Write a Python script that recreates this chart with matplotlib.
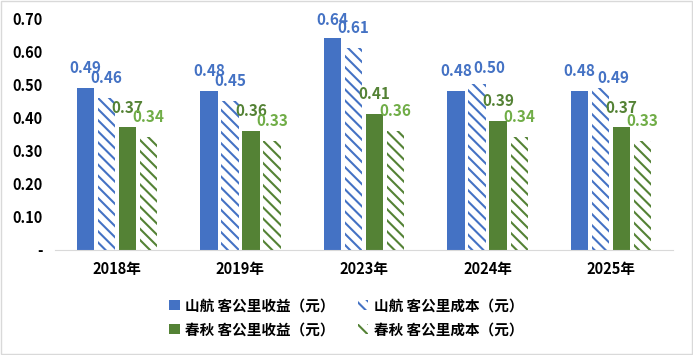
import numpy as np
import matplotlib.pyplot as plt
from matplotlib.patches import Patch

plt.rcParams['font.family'] = ['Noto Sans CJK SC', 'DejaVu Sans']
plt.rcParams['hatch.linewidth'] = 1.5

years = ['2018年', '2019年', '2023年', '2024年', '2025年']
sh_rev = [0.49, 0.48, 0.64, 0.48, 0.48]
sh_cost = [0.46, 0.45, 0.61, 0.50, 0.49]
cq_rev = [0.37, 0.36, 0.41, 0.39, 0.37]
cq_cost = [0.34, 0.33, 0.36, 0.34, 0.33]
names = ['山航 客公里收益（元）', '山航 客公里成本（元）',
         '春秋 客公里收益（元）', '春秋 客公里成本（元）']

blue = '#4472C4'
green = '#548235'
lgreen = '#70AD47'

fig = plt.figure(figsize=(6.93, 3.55), dpi=100)
ax = fig.add_axes([0.0794, 0.296, 0.8918, 0.653])

x = np.arange(len(years))
w = 0.14
step = 0.17
series = [
    (sh_rev, dict(color=blue), blue),
    (sh_cost, dict(facecolor='white', edgecolor=blue, hatch='\\\\\\', linewidth=0), blue),
    (cq_rev, dict(color=green), green),
    (cq_cost, dict(facecolor='white', edgecolor=green, hatch='\\\\\\', linewidth=0), lgreen),
]
# label nudges where labels would collide (series, group) -> (dx, dy)
nudge = {(1, 3): (0.1, 0.048), (1, 4): (0.1, 0.03), (0, 2): (0, 0.055)}
for i, (vals, style, lc) in enumerate(series):
    pos = x + (i - 1.5) * step
    ax.bar(pos, vals, w, **style)
    for j, (p, v) in enumerate(zip(pos, vals)):
        dx, dy = nudge.get((i, j), (0, 0.06))
        ax.text(p + dx, v + dy, f'{v:.2f}', ha='center', va='center',
                color=lc, fontsize=11, fontweight='bold', clip_on=False)

ax.set_xlim(-0.5, 4.5)
ax.set_ylim(0, 0.70)
ax.set_yticks(np.arange(0, 0.71, 0.1))
ax.set_yticklabels(['-'] + [f'{t:.2f}' for t in np.arange(0.1, 0.71, 0.1)])
ax.set_xticks(x)
ax.set_xticklabels(years)
for lab in ax.get_xticklabels() + ax.get_yticklabels():
    lab.set_fontweight('bold')
    lab.set_fontsize(10.5)
ax.tick_params(axis='y', length=0, pad=9)
ax.tick_params(axis='x', length=0, pad=8)
for s in ['top', 'right', 'left']:
    ax.spines[s].set_visible(False)
ax.spines['bottom'].set_color('#D9D9D9')

handles = [
    Patch(facecolor=blue),
    Patch(facecolor='white', edgecolor=blue, hatch='\\\\\\', linewidth=0),
    Patch(facecolor=green),
    Patch(facecolor='white', edgecolor=green, hatch='\\\\\\', linewidth=0),
]
order = [0, 2, 1, 3]
fig.legend([handles[k] for k in order], [names[k] for k in order],
           loc='center', bbox_to_anchor=(0.5, 0.106), ncol=2, frameon=False,
           prop={'weight': 'bold', 'size': 10.5}, handlelength=0.7,
           handleheight=0.7, handletextpad=0.4, columnspacing=1.6,
           labelspacing=0.55)

fig.patches.append(plt.Rectangle((0.002, 0.003), 0.996, 0.994, transform=fig.transFigure,
                                 fill=False, edgecolor='#D9D9D9', linewidth=1))

fig.savefig('out.png', dpi=100)
